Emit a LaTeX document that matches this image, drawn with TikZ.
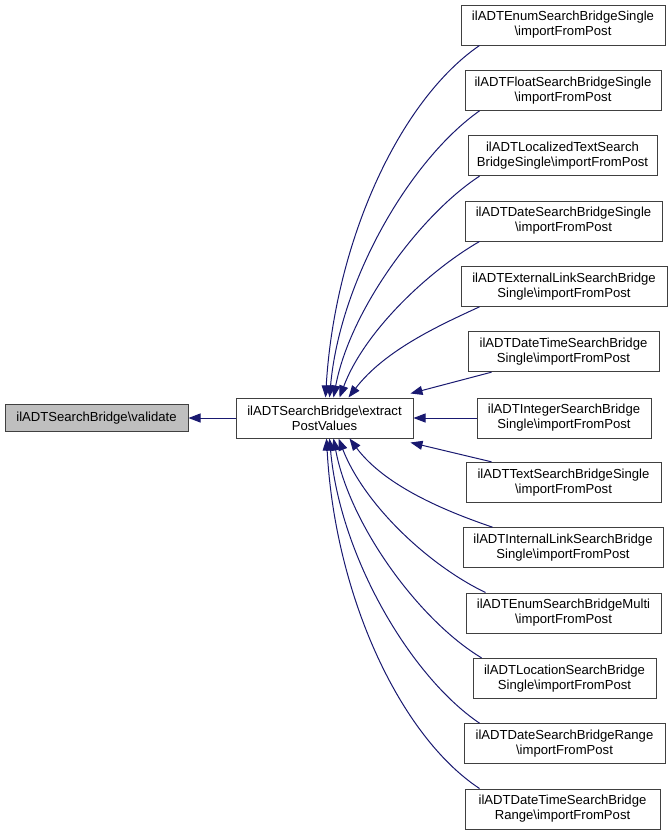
\documentclass[tikz,border=0pt]{standalone}
\usepackage{fontspec}
\setmainfont{Liberation Sans}
\usetikzlibrary{arrows.meta,calc}
\definecolor{edgec}{HTML}{191970}
\definecolor{boxc}{HTML}{404040}
\definecolor{fillc}{HTML}{BFBFBF}
\begin{document}
\begin{tikzpicture}[x=1pt,y=-1pt,
  box/.style={draw=boxc,line width=1pt,fill=white,align=center,inner sep=0pt,
    minimum height=40pt,font=\fontsize{13.1}{15}\selectfont,text=black},
  edge/.style={draw=edgec,line width=1pt,-{Triangle[length=12pt,width=9pt]}}]
\useasboundingbox (0,0) rectangle (672,836);
\node[box,fill=fillc,minimum width=183pt,minimum height=27pt] (v) at (96.5,418) {ilADTSearchBridge\textbackslash validate};
\node[box,minimum width=177pt] (m) at (324.5,418) {ilADTSearchBridge\textbackslash extract\\PostValues};
\node[box,minimum width=204pt] (r1) at (563,25) {ilADTEnumSearchBridgeSingle\\\textbackslash importFromPost};
\node[box,minimum width=196pt] (r2) at (563,90.33) {ilADTFloatSearchBridgeSingle\\\textbackslash importFromPost};
\node[box,minimum width=189pt] (r3) at (562.5,155.67) {ilADTLocalizedTextSearch\\BridgeSingle\textbackslash importFromPost};
\node[box,minimum width=197pt] (r4) at (563.5,221) {ilADTDateSearchBridgeSingle\\\textbackslash importFromPost};
\node[box,minimum width=206pt] (r5) at (564,286.33) {ilADTExternalLinkSearchBridge\\Single\textbackslash importFromPost};
\node[box,minimum width=191pt] (r6) at (563.5,351.67) {ilADTDateTimeSearchBridge\\Single\textbackslash importFromPost};
\node[box,minimum width=174pt] (r7) at (564,418) {ilADTIntegerSearchBridge\\Single\textbackslash importFromPost};
\node[box,minimum width=195pt] (r8) at (563.5,482.33) {ilADTTextSearchBridgeSingle\\\textbackslash importFromPost};
\node[box,minimum width=200pt] (r9) at (563,547.67) {ilADTInternalLinkSearchBridge\\Single\textbackslash importFromPost};
\node[box,minimum width=195pt] (r10) at (563.5,613) {ilADTEnumSearchBridgeMulti\\\textbackslash importFromPost};
\node[box,minimum width=183pt] (r11) at (564.5,678.33) {ilADTLocationSearchBridge\\Single\textbackslash importFromPost};
\node[box,minimum width=201pt] (r12) at (564.5,743.67) {ilADTDateSearchBridgeRange\\\textbackslash importFromPost};
\node[box,minimum width=195pt] (r13) at (562.5,809) {ilADTDateTimeSearchBridge\\Range\textbackslash importFromPost};
% edges
\draw[edge] (m.west) -- (v.east);
\draw[edge] ([xshift=19pt]r1.south west) .. controls (400,100) and (335,240) .. ([xshift=90pt]m.north west);
\draw[edge] ([xshift=15pt]r2.south west) .. controls (410,160) and (340,280) .. ([xshift=94pt]m.north west);
\draw[edge] ([xshift=12pt]r3.south west) .. controls (420,215) and (350,310) .. ([xshift=98pt]m.north west);
\draw[edge] ([xshift=15pt]r4.south west) .. controls (430,270) and (365,330) .. ([xshift=104pt]m.north west);
\draw[edge] ([xshift=19pt]r5.south west) .. controls (440,325) and (385,350) .. ([xshift=113pt]m.north west);
\draw[edge] ([xshift=24pt]r6.south west) -- ([xshift=-3pt,yshift=4pt]m.north east);
\draw[edge] (r7.west) -- (m.east);
\draw[edge] ([xshift=26pt]r8.north west) -- ([xshift=-3pt,yshift=-4pt]m.south east);
\draw[edge] ([xshift=30pt]r9.north west) .. controls (445,511) and (385,486) .. ([xshift=114pt]m.south west);
\draw[edge] ([xshift=20pt]r10.north west) .. controls (430,566) and (365,506) .. ([xshift=103pt]m.south west);
\draw[edge] ([xshift=9pt]r11.north west) .. controls (420,621) and (350,526) .. ([xshift=98pt]m.south west);
\draw[edge] ([xshift=16pt]r12.north west) .. controls (410,676) and (340,556) .. ([xshift=94pt]m.south west);
\draw[edge] ([xshift=15pt]r13.north west) .. controls (400,736) and (335,596) .. ([xshift=91pt]m.south west);
\end{tikzpicture}
\end{document}
